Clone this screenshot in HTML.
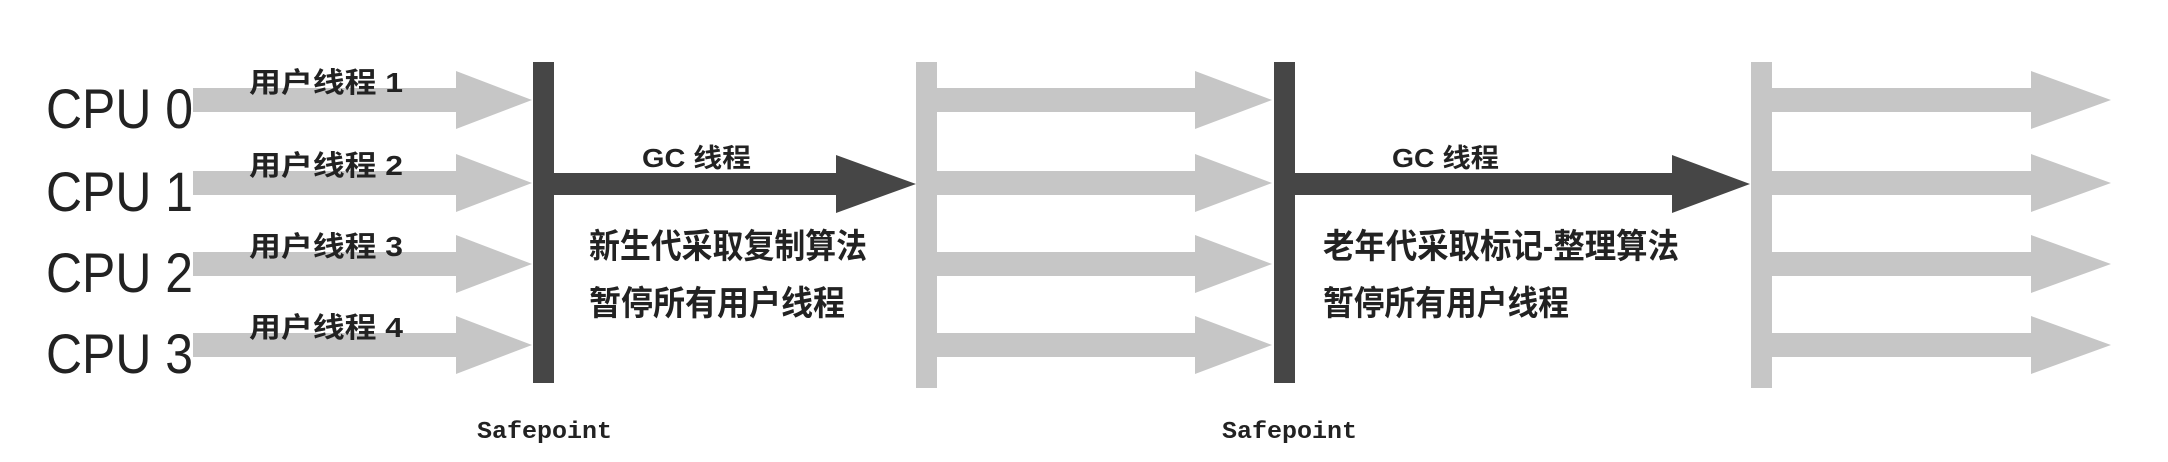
<!DOCTYPE html>
<html><head><meta charset="utf-8"><style>
html,body{margin:0;padding:0;background:#fff;}
svg{display:block;}
.cpu{font-family:"Liberation Sans",sans-serif;font-size:56px;fill:#222;}
.cjk{font-family:"Liberation Sans","Noto Sans CJK SC",sans-serif;fill:#222;font-weight:bold;}
.mono{font-family:"Liberation Mono",monospace;font-size:24px;fill:#222;font-weight:bold;}
</style></head><body>
<svg id="chart" width="2168" height="462" viewBox="0 0 2168 462" xmlns="http://www.w3.org/2000/svg"></svg>
<script>
const cpuLabels=["CPU 0","CPU 1","CPU 2","CPU 3"];
const threadLabels=["用户线程 1","用户线程 2","用户线程 3","用户线程 4"];
const rowY=[100,183,264,345];
const gcLabels=["GC 线程","GC 线程"];
const gcText1=["新生代采取复制算法","老年代采取标记-整理算法"];
const gcText2=["暂停所有用户线程","暂停所有用户线程"];
const NS="http://www.w3.org/2000/svg";
const svg=document.getElementById('chart');
function mk(tag,attrs,parent){const e=document.createElementNS(NS,tag);for(const k in attrs)e.setAttribute(k,attrs[k]);(parent||svg).appendChild(e);return e;}
function arrow(x0,xh,x1,y,sh,hh,color){
  return mk('polygon',{points:`${x0},${y-sh} ${xh},${y-sh} ${xh},${y-hh} ${x1},${y} ${xh},${y+hh} ${xh},${y+sh} ${x0},${y+sh}`,fill:color});
}
const light="#c6c6c6",dark="#464646";
const stages=[[193,456,532],[937,1195,1272],[1772,2031,2111]];
stages.forEach((s,si)=>{rowY.forEach((y,i)=>{
  const a=arrow(s[0],s[1],s[2],y,12,29,light);
  
  
});});
const bars=[[533,dark,62,383],[916,light,62,388],[1274,dark,62,383],[1751,light,62,388]];
bars.forEach((b,i)=>{
  const r=mk('rect',{x:b[0],y:b[2],width:21,height:b[3]-b[2],fill:b[1]});
  
  
});
const gcx=[[554,836,916,642,589,278,109,278,256],[1295,1672,1750,1392,1323,356,107,356,246]];
gcx.forEach((g,i)=>{
  const a=arrow(g[0],g[1],g[2],184,11,29,dark);
  
  
  const t=mk('text',{x:g[3],y:167,'font-size':26,class:'cjk',textLength:g[6],lengthAdjust:'spacingAndGlyphs'});t.textContent=gcLabels[i];
  
  
  const t1=mk('text',{x:g[4],y:258,'font-size':34,class:'cjk',textLength:g[5],lengthAdjust:'spacingAndGlyphs'});t1.textContent=gcText1[i];
  
  
  const t2=mk('text',{x:g[4],y:315,'font-size':34,class:'cjk',textLength:g[8],lengthAdjust:'spacingAndGlyphs'});t2.textContent=gcText2[i];
  
  
});
cpuLabels.forEach((c,i)=>{
  const t=mk('text',{x:46,y:rowY[i]+28,class:'cpu',textLength:147,lengthAdjust:'spacingAndGlyphs'});t.textContent=c;
  
  
  const u=mk('text',{x:249,y:rowY[i]-8,'font-size':28,class:'cjk',textLength:154,lengthAdjust:'spacingAndGlyphs'});u.textContent=threadLabels[i];
  
  
});
[477,1222].forEach(x=>{
  const t=mk('text',{x:x,y:438,class:'mono',textLength:135,lengthAdjust:'spacingAndGlyphs'});t.textContent="Safepoint";
  
  
});
</script>
</body></html>
